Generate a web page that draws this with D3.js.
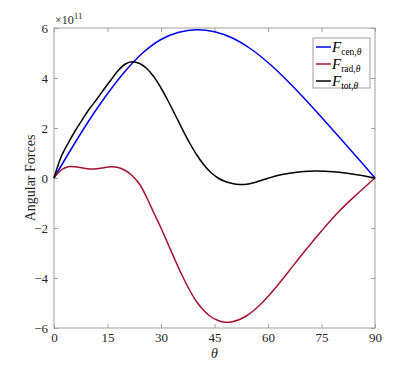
<!DOCTYPE html>
<html><head><meta charset="utf-8">
<script src="https://cdn.jsdelivr.net/npm/d3@7"></script>
<style>body{margin:0;background:#fff}svg{display:block}</style>
</head><body><svg id="c" width="415" height="369"></svg>
<script>
const xTicks=[0,15,30,45,60,75,90];
const yTicks=[-6,-4,-2,0,2,4,6];
const cenTheta=[0,5,10,15,20,25,30,35,40,45,50,55,60,65,70,75,80,85,90];
const cenVal=[0,1.2,2.34,3.37,4.28,5.02,5.54,5.83,5.93,5.85,5.6,5.18,4.62,3.95,3.21,2.43,1.63,0.82,0];
const radTheta=[0,2,4,6,8,10,12,14,16,18,20,22,24,26,28,30,32,34,36,38,40,42,44,46,48,50,52,54,56,58,60,62,64,66,70,75,80,85,90];
const radVal=[0,0.32,0.45,0.45,0.4,0.36,0.37,0.41,0.45,0.42,0.3,0.08,-0.25,-0.78,-1.4,-2.0,-2.65,-3.3,-3.92,-4.48,-4.95,-5.3,-5.55,-5.7,-5.77,-5.75,-5.66,-5.51,-5.3,-5.04,-4.74,-4.41,-4.06,-3.7,-2.98,-2.12,-1.32,-0.64,0];
const totTheta=[0,1,2,4,6,8,10,12,14,16,18,20,22,24,26,28,30,32,34,36,38,40,42,44,46,48,50,52,54,56,58,60,63,66,70,73,76,80,85,90];
const totVal=[0,0.45,0.85,1.4,1.9,2.35,2.78,3.15,3.55,3.93,4.3,4.56,4.65,4.58,4.38,4.05,3.6,3.08,2.52,1.95,1.41,0.93,0.53,0.22,0.0,-0.14,-0.22,-0.26,-0.25,-0.19,-0.1,-0.01,0.11,0.19,0.26,0.28,0.27,0.23,0.13,0];
const seriesNames=["cen","rad","tot"];
const seriesColors=["#0000FF","#A2142F","#000000"];

const svg=d3.select("#c");
const L=54,R=375,T=28,B=328;
const x=d3.scaleLinear().domain([0,90]).range([L,R]);
const y=d3.scaleLinear().domain([-6,6]).range([B,T]);
const font="'Liberation Serif','Times New Roman',serif";
const axCol="#a0a0a0", txtCol="#262626";

const g=svg.append("g");
function styleAxis(sel,showLabels){
  sel.select(".domain").remove();
  sel.selectAll(".tick line").attr("stroke",axCol);
  sel.selectAll(".tick text").attr("fill",txtCol).style("font-family",font).style("font-size","13px");
  if(!showLabels) sel.selectAll(".tick text").remove();
}
g.append("g").attr("transform",`translate(0,${B})`).call(d3.axisBottom(x).tickValues(xTicks).tickSize(-4).tickPadding(5).tickFormat(d3.format("d"))).call(s=>styleAxis(s,true));
g.append("g").attr("transform",`translate(0,${T})`).call(d3.axisTop(x).tickValues(xTicks).tickSize(-4)).call(s=>styleAxis(s,false));
g.append("g").attr("transform",`translate(${L},0)`).call(d3.axisLeft(y).tickValues(yTicks).tickSize(-4).tickPadding(6).tickFormat(d3.format("d"))).call(s=>styleAxis(s,true));
g.append("g").attr("transform",`translate(${R},0)`).call(d3.axisRight(y).tickValues(yTicks).tickSize(-4)).call(s=>styleAxis(s,false));
g.append("rect").attr("x",L).attr("y",T).attr("width",R-L).attr("height",B-T).attr("fill","none").attr("stroke",axCol).attr("stroke-width",1);

const line=d3.line().x(d=>x(d[0])).y(d=>y(d[1])).curve(d3.curveCatmullRom.alpha(0.5));
const data=[d3.zip(cenTheta,cenVal),d3.zip(radTheta,radVal),d3.zip(totTheta,totVal)];
data.forEach((d,i)=>{
  g.append("path").datum(d).attr("d",line).attr("fill","none").attr("stroke",seriesColors[i]).attr("stroke-width",1.5);
});

// exponent
const ex=svg.append("text").attr("x",L+1).attr("y",T-4).attr("fill",txtCol).style("font-family",font).style("font-size","12px");
ex.append("tspan").text("×10");
ex.append("tspan").attr("dy",-5).style("font-size","9px").text("11");

// axis labels
svg.append("text").attr("transform",`translate(35,${(T+B)/2}) rotate(-90)`).attr("text-anchor","middle").attr("fill",txtCol).style("font-family",font).style("font-size","14px").text("Angular Forces");
svg.append("text").attr("x",(L+R)/2).attr("y",358).attr("text-anchor","middle").attr("fill",txtCol).style("font-family",font).style("font-size","14px").style("font-style","italic").text("θ");

// legend
const lg=svg.append("g");
lg.append("rect").attr("x",313).attr("y",38).attr("width",57).attr("height",50).attr("fill","#fff").attr("stroke",axCol);
seriesNames.forEach((n,i)=>{
  const yy=47+i*17;
  lg.append("line").attr("x1",316).attr("x2",331).attr("y1",yy).attr("y2",yy).attr("stroke",seriesColors[i]).attr("stroke-width",1.5);
  const t=lg.append("text").attr("x",332).attr("y",yy+4.5).attr("fill","#000").style("font-family",font).style("font-size","15px");
  t.append("tspan").style("font-style","italic").text("F");
  t.append("tspan").attr("dy",3).style("font-size","9.5px").text(n+",");
  t.append("tspan").style("font-size","9.5px").style("font-style","italic").text("θ");
});
</script></body></html>
